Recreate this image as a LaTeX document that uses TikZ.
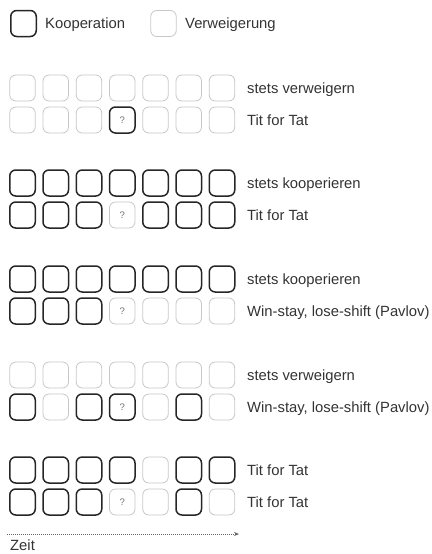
\documentclass[tikz,border=0pt]{standalone}
\usepackage{fontspec}
\setmainfont{Liberation Sans}
\usetikzlibrary{arrows.meta}
\tikzset{
  box/.style={rectangle,rounded corners=6pt,minimum width=25.5pt,minimum height=26pt,inner sep=0pt},
  C/.style={box,draw=black!85,line width=1.5pt},
  D/.style={box,draw=black!22,line width=.8pt},
  qmark/.style={inner sep=0pt,text=black!55,font=\fontsize{9.5}{10}\selectfont},
  Cq/.style={C,label={[qmark]center:?}},
  Dq/.style={D,label={[qmark]center:?}},
  lbl/.style={anchor=base west,inner sep=0pt,text=black!80,font=\fontsize{14.8}{17}\selectfont}
}
\newcommand{\zugreihe}[3]{%
  \foreach \s [count=\i] in {#2}
    \node[\s] (z#1-\i) at ({22.5+33.25*(\i-1)},#1) {};
  \node[lbl] (t#1) at (247,#1+5.3) {#3};
}

\begin{document}
\begin{tikzpicture}[x=1pt,y=-1pt,>=Stealth]
\useasboundingbox (0,0) rectangle (431,554);
% legend
\node[C] (legC) at (23.5,23.5) {};
\node[lbl] (legCt) at (45,28.8) {Kooperation};
\node[D] (legD) at (163.5,23.5) {};
\node[lbl] (legDt) at (185,28.8) {Verweigerung};
% games
\zugreihe{88}{D,D,D,D,D,D,D}{stets verweigern}
\zugreihe{120}{D,D,D,Cq,D,D,D}{Tit for Tat}
\zugreihe{183}{C,C,C,C,C,C,C}{stets kooperieren}
\zugreihe{215}{C,C,C,Dq,C,C,C}{Tit for Tat}
\zugreihe{279}{C,C,C,C,C,C,C}{stets kooperieren}
\zugreihe{311}{C,C,C,Dq,D,D,D}{Win-stay, lose-shift (Pavlov)}
\zugreihe{375}{D,D,D,D,D,D,D}{stets verweigern}
\zugreihe{407}{C,D,C,Cq,D,C,D}{Win-stay, lose-shift (Pavlov)}
\zugreihe{470}{C,C,C,C,D,C,C}{Tit for Tat}
\zugreihe{502}{C,C,C,Dq,D,C,D}{Tit for Tat}
% time axis
\coordinate (t0) at (7,534);
\coordinate (t1) at (239,534);
\draw[black!60,line width=.7pt,dash pattern=on .7pt off 1.3pt,-{Stealth[length=5pt,width=4pt]}] (t0) -- (t1);
\node[lbl] (zeit) at (10,550) {Zeit};
\end{tikzpicture}
\end{document}
